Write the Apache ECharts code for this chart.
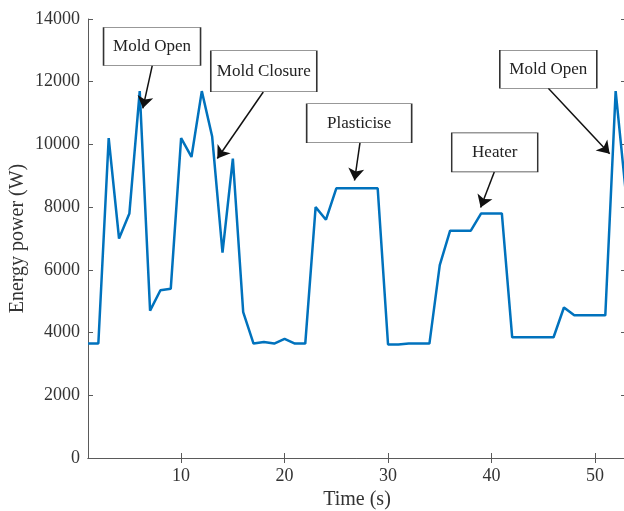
<!DOCTYPE html>
<html>
<head>
<meta charset="utf-8">
<script src="https://cdn.jsdelivr.net/npm/echarts@6/dist/echarts.min.js"></script>
<style>
  html, body { margin: 0; padding: 0; background: #fff; }
  #main { width: 624px; height: 511px; }
</style>
</head>
<body>
<div id="main"></div>
<script>
// time in seconds, one sample per second
let times = [];
for (let t = 1; t <= 53; t++) times.push(t);
let power = [
  3650, 3650, 10200, 7000, 7800, 11700, 4700, 5350, 5400, 10200,
  9600, 11700, 10250, 6550, 9550, 4650, 3650, 3700, 3650, 3800,
  3650, 3650, 8000, 7600, 8600, 8600, 8600, 8600, 8600, 3620,
  3620, 3650, 3650, 3650, 6150, 7250, 7250, 7250, 7800, 7800,
  7800, 3850, 3850, 3850, 3850, 3850, 4800, 4550, 4550, 4550,
  4550, 11700, 8400
];
let xTicks = [10, 20, 30, 40, 50];

// annotation boxes: text, box centre and arrow start/tip in data units
let noteText = ['Mold Open', 'Mold Closure', 'Plasticise', 'Heater', 'Mold Open'];
let noteBox = [[7.19, 13123], [17.99, 12332], [27.21, 10674], [40.31, 9749], [45.49, 12399]];
let noteFrom = [[7.21, 12511], [17.94, 11672], [27.29, 10055], [40.27, 9121], [45.49, 11790]];
let noteTip = [[6.3, 11150], [13.5, 9550], [26.76, 8850], [38.95, 7990], [51.42, 9700]];
let noteSize = [[97, 38], [106, 41], [105, 39], [86, 39], [97, 38]];

let font = 'Liberation Serif';
let axisColor = '#5a5a5a';
let textColor = '#333';

let myChart = echarts.init(document.getElementById('main'));

let lineData = times.map(function(t, i){ return [t, power[i]]; });

let boxes = noteText.map(function(txt, i){
  return {
    name: txt,
    coord: noteBox[i],
    symbol: 'rect',
    symbolSize: noteSize[i],
    itemStyle: { color: '#fff', borderColor: '#333', borderWidth: 1 },
    label: { show: true, formatter: txt, position: 'inside', color: '#222', fontFamily: font, fontSize: 17 }
  };
});
let arrows = noteText.map(function(txt, i){
  return [{ coord: noteFrom[i] }, { coord: noteTip[i] }];
});

let option = {
  animation: false,
  grid: { left: 88, top: 19, width: 538, height: 439, containLabel: false, outerBoundsMode: 'none' },
  xAxis: [
    {
      type: 'value', min: 1, max: 53, position: 'bottom',
      name: 'Time (s)', nameLocation: 'middle', nameGap: 32,
      nameTextStyle: { fontFamily: font, fontSize: 20, color: textColor },
      axisLine: { show: true, lineStyle: { color: axisColor, width: 1 } },
      axisTick: { show: true, inside: true, length: 5, customValues: xTicks, lineStyle: { color: axisColor } },
      axisLabel: { customValues: xTicks, margin: 9, fontFamily: font, fontSize: 18, color: textColor },
      splitLine: { show: false }
    },
    {
      type: 'value', min: 1, max: 53, position: 'top',
      axisLine: { show: true, lineStyle: { color: axisColor, width: 1 } },
      axisTick: { show: true, inside: true, length: 5, customValues: xTicks, lineStyle: { color: axisColor } },
      axisLabel: { show: false },
      splitLine: { show: false }
    }
  ],
  yAxis: [
    {
      type: 'value', min: 0, max: 14000, interval: 2000, position: 'left',
      name: 'Energy power (W)', nameLocation: 'middle', nameGap: 60, nameMoveOverlap: false,
      nameTextStyle: { fontFamily: font, fontSize: 20, color: textColor },
      axisLine: { show: true, lineStyle: { color: axisColor, width: 1 } },
      axisTick: { show: true, inside: true, length: 5, lineStyle: { color: axisColor } },
      axisLabel: { margin: 8, fontFamily: font, fontSize: 18, color: textColor,
        formatter: function(v){ return String(v); } },
      splitLine: { show: false }
    },
    {
      type: 'value', min: 0, max: 14000, interval: 2000, position: 'right',
      axisLine: { show: true, lineStyle: { color: axisColor, width: 1 } },
      axisTick: { show: true, inside: true, length: 5, lineStyle: { color: axisColor } },
      axisLabel: { show: false },
      splitLine: { show: false }
    }
  ],
  series: [
    {
      name: 'Energy power',
      type: 'line',
      data: lineData,
      showSymbol: false,
      lineStyle: { color: '#0072BD', width: 2.5 },
      itemStyle: { color: '#0072BD' },
      markPoint: { silent: true, data: boxes },
      markLine: {
        silent: true,
        symbol: ['none', 'arrow'],
        symbolSize: 12,
        label: { show: false },
        lineStyle: { color: '#111', width: 1.5, type: 'solid' },
        emphasis: { disabled: true },
        data: arrows
      }
    }
  ]
};
myChart.setOption(option);
</script>
</body>
</html>
